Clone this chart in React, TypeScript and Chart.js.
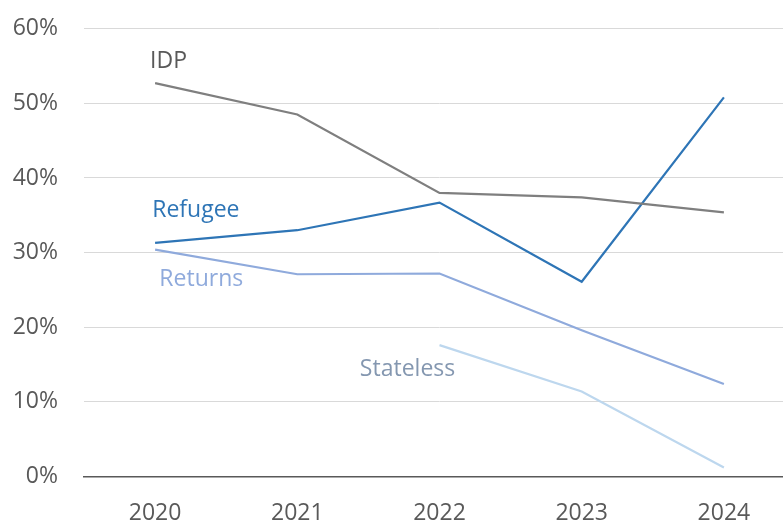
import React, { useEffect, useRef } from "react";
import { Chart, registerables } from "chart.js";

Chart.register(...registerables);

const years = ["2020", "2021", "2022", "2023", "2024"];
const idp = [52.7, 48.5, 38.0, 37.4, 35.4];
const refugee = [31.3, 33.0, 36.7, 26.1, 50.8];
const returns = [30.4, 27.1, 27.2, 19.6, 12.4];
const stateless = [null, null, 17.6, 11.4, 1.2];
const yTicks = [0, 10, 20, 30, 40, 50, 60];

const seriesNames = ["IDP", "Refugee", "Returns", "Stateless"];
const seriesColors = ["#7f7f7f", "#2e75b6", "#8faadc", "#bdd7ee"];
const labelColors = ["#595959", "#2e75b6", "#8faadc", "#8497b0"];
// label anchors in data space: category index (fractional), value (%)
const labelX = [-0.035, -0.02, 0.03, 1.44];
const labelY = [54.7, 34.8, 25.5, 13.4];

const FONT = "'Open Sans', sans-serif";

const labelPlugin = {
  id: "seriesLabels",
  afterDatasetsDraw(chart: any) {
    const { ctx, scales } = chart;
    ctx.save();
    ctx.font = `23px ${FONT}`;
    ctx.textAlign = "left";
    ctx.textBaseline = "alphabetic";
    seriesNames.forEach((name, i) => {
      ctx.fillStyle = labelColors[i];
      ctx.fillText(name, scales.x.getPixelForValue(labelX[i]), scales.y.getPixelForValue(labelY[i]));
    });
    ctx.restore();
  },
};

export default function App() {
  const ref = useRef<HTMLCanvasElement>(null);
  useEffect(() => {
    if (!ref.current) return;
    const allSeries = [idp, refugee, returns, stateless];
    const chart = new Chart(ref.current, {
      type: "line",
      data: {
        labels: years,
        datasets: allSeries.map((d, i) => ({
          label: seriesNames[i],
          data: d as any,
          borderColor: seriesColors[i],
          backgroundColor: seriesColors[i],
          borderWidth: 2.2,
          pointRadius: 0,
          tension: 0,
          spanGaps: false,
        })),
      },
      options: {
        responsive: false,
        animation: false,
        devicePixelRatio: 1,
        layout: { padding: { top: 28.7, right: 5, left: 0, bottom: 0 } },
        plugins: { legend: { display: false }, tooltip: { enabled: false } },
        scales: {
          x: {
            offset: true,
            grid: { display: false, drawTicks: false },
            border: { display: true, color: "#595959", width: 1.5 },
            ticks: { color: "#595959", font: { family: FONT, size: 23 }, padding: 23 },
            afterFit(scale: any) {
              scale.height = 46.5;
              scale.paddingLeft = 0;
              scale.paddingRight = 0;
            },
          },
          y: {
            min: 0,
            max: 60,
            afterBuildTicks(scale: any) {
              scale.ticks = yTicks.map((v) => ({ value: v }));
            },
            grid: { color: "#d9d9d9", lineWidth: 1, drawTicks: false },
            border: { display: false },
            ticks: {
              color: "#595959",
              font: { family: FONT, size: 23 },
              padding: 26,
              callback: (v: any) => `${v}%`,
            },
            afterFit(scale: any) {
              scale.width = 84;
              scale.paddingTop = 0;
              scale.paddingBottom = 0;
            },
          },
        },
      },
      plugins: [labelPlugin],
    });
    return () => chart.destroy();
  }, []);
  return (
    <div style={{ position: "fixed", left: 0, top: 0, width: 783, height: 523, overflow: "hidden", background: "#fff" }}>
      <canvas ref={ref} width={800} height={523} style={{ width: 800, height: 523, display: "block" }} />
    </div>
  );
}
